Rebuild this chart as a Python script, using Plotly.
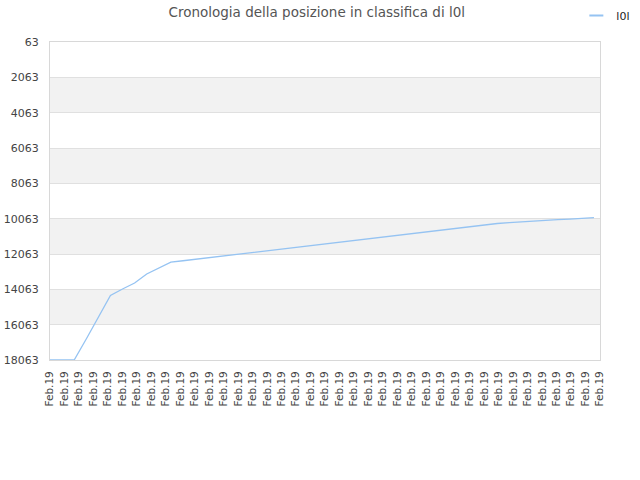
import plotly.graph_objects as go

# rank history (one value per sample point)
rank = [18063, 18063, 18063, 16874, 15629, 14412, 14044, 13704, 13195, 12872,
        12526, 12444, 12362, 12280, 12198, 12116, 12034, 11952, 11870, 11788,
        11706, 11624, 11542, 11460, 11378, 11296, 11214, 11132, 11050, 10968,
        10886, 10804, 10722, 10640, 10558, 10476, 10387, 10336, 10285, 10234,
        10189, 10155, 10121, 10087, 10059, 10008]
steps = list(range(len(rank)))

tick_labels = ["Feb.19"] * 39
y_ticks = [63, 2063, 4063, 6063, 8063, 10063, 12063, 14063, 16063, 18063]
bands = [(2063, 4063), (6063, 8063), (10063, 12063), (14063, 16063)]

LINE = "#95c3f2"
TXT = "#444444"
GRID = "#e0e0e0"

x_max = 45.5
tick_step = x_max / (len(tick_labels) - 1)
tick_pos = [i * tick_step for i in range(len(tick_labels))]

fig = go.Figure()
fig.add_trace(go.Scatter(
    x=steps, y=rank, mode="lines",
    line=dict(color=LINE, width=1.3),
    showlegend=False, hoverinfo="y",
))
# legend entry with a short line symbol
fig.add_trace(go.Scatter(
    x=[None], y=[None], mode="markers", name="l0l",
    marker=dict(symbol="line-ew", size=10, line=dict(color=LINE, width=2)),
))

for lo, hi in bands:
    fig.add_shape(type="rect", xref="paper", x0=0, x1=1, yref="y", y0=lo, y1=hi,
                  fillcolor="#f2f2f2", line_width=0, layer="below")

fig.update_layout(
    width=640, height=480,
    margin=dict(l=50, r=40, t=42, b=120, autoexpand=False),
    paper_bgcolor="white", plot_bgcolor="white",
    font=dict(family="DejaVu Sans", size=11, color=TXT),
    title=dict(text="Cronologia della posizione in classifica di l0l",
               x=0.495, xanchor="center", y=0.975, yanchor="middle",
               font=dict(size=13.5, color="#555555")),
    legend=dict(x=0.957, xanchor="left", y=1.129, yanchor="top",
                bgcolor="rgba(0,0,0,0)", font=dict(size=11, color="#222"),
                itemwidth=30),
    hovermode="x",
)
fig.update_xaxes(
    range=[0, x_max], tickmode="array", tickvals=tick_pos, ticktext=tick_labels,
    tickangle=-90, showgrid=False, zeroline=False, automargin=False,
    showline=True, linecolor="#d8d8d8", mirror=True, ticklabelstandoff=6,
    tickfont=dict(size=10.5, color=TXT),
)
fig.update_yaxes(
    range=[18063, 63], tickmode="array", tickvals=y_ticks,
    ticktext=[str(v) for v in y_ticks], automargin=False,
    showgrid=True, gridcolor=GRID, zeroline=False, ticklabelstandoff=8,
    showline=True, linecolor="#d8d8d8", mirror=True,
    tickfont=dict(size=11, color=TXT),
)

# drop the default body margin so the chart sits at the page corner
fig.write_html("out.html", config={"displayModeBar": False},
               post_script="document.body.style.margin='0';")
